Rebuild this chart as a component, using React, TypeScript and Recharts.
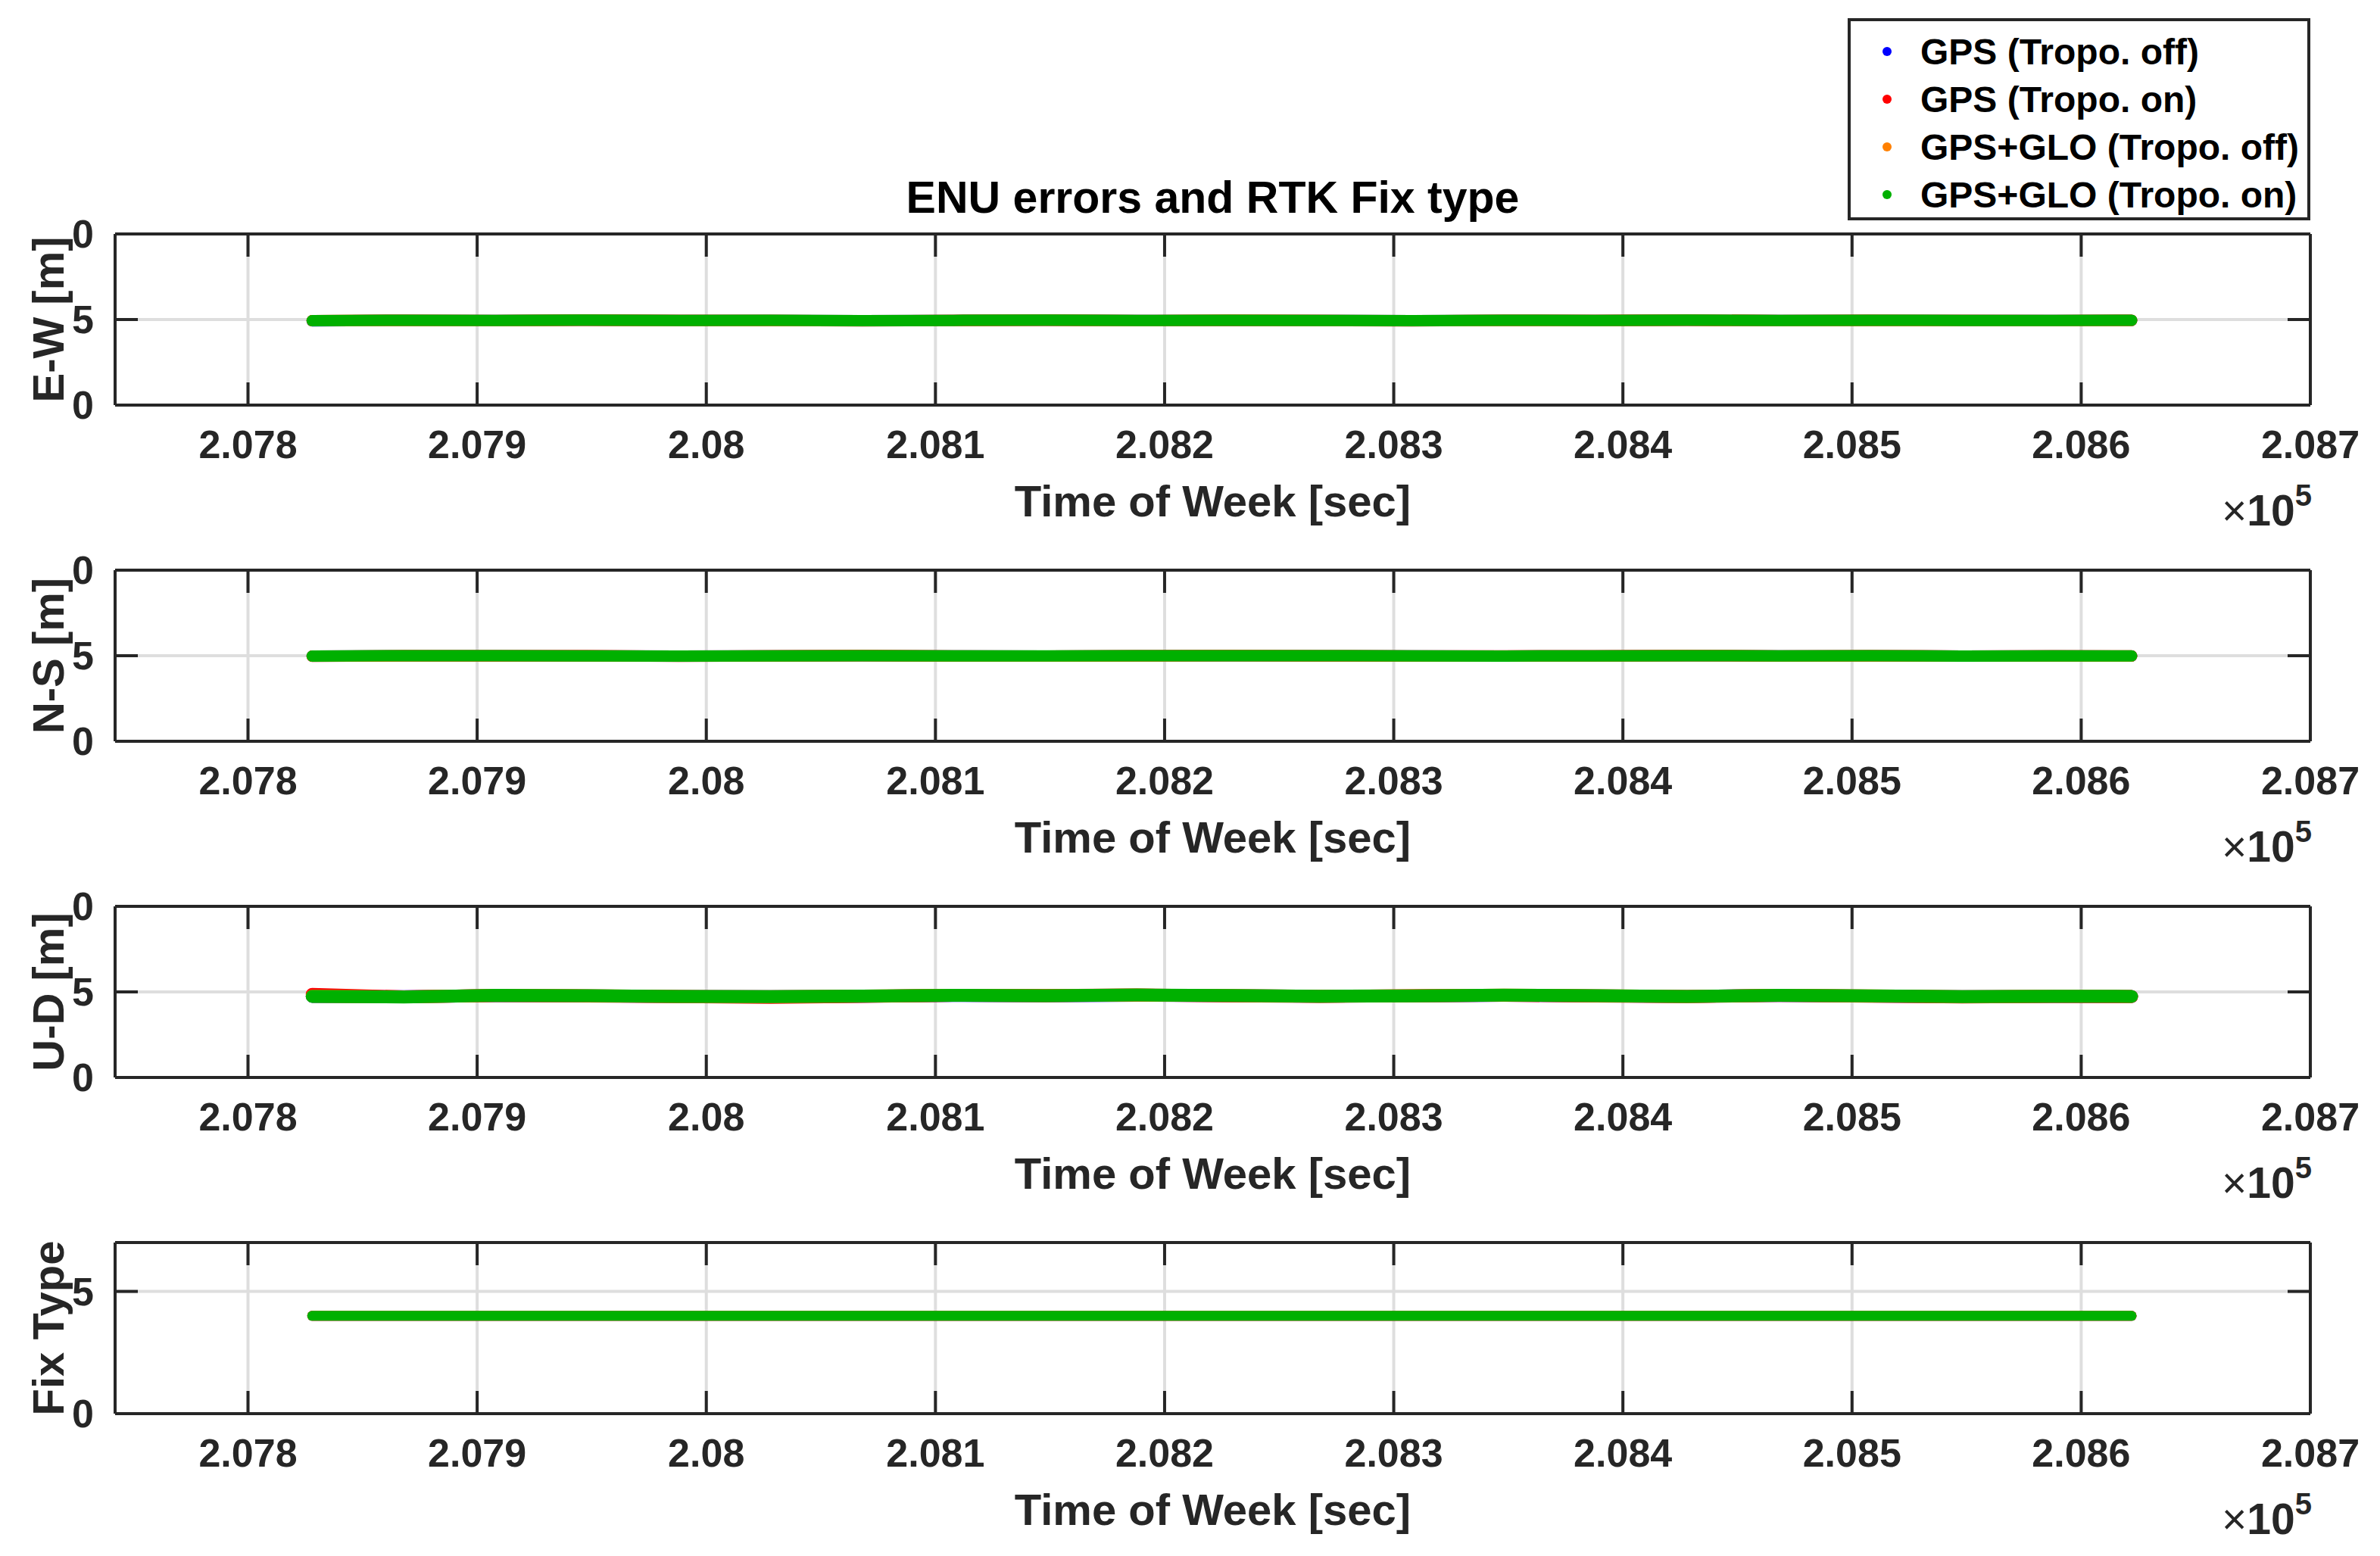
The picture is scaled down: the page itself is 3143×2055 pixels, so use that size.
import { CartesianGrid, Label, Line, LineChart, ReferenceLine, XAxis, YAxis } from "recharts";

// Time of week [s] sampled along the track
const TOW = [
  207828, 207868, 207908, 207948, 207988, 208028, 208068, 208108, 208148, 208188, 208228,
  208268, 208308, 208348, 208388, 208428, 208468, 208508, 208548, 208588, 208622,
];

const X_DOMAIN = [207742, 208700];
const X_TICKS = [207800, 207900, 208000, 208100, 208200, 208300, 208400, 208500, 208600, 208700];
const X_TICK_LABELS = ["2.078", "2.079", "2.08", "2.081", "2.082", "2.083", "2.084", "2.085", "2.086", "2.087"];

// E-W error [m]
const EW_GPS_OFF = [4.92, 4.95, 4.94, 4.96, 4.95, 4.94, 4.93, 4.95, 4.96, 4.94, 4.95, 4.95, 4.93, 4.95, 4.94, 4.96, 4.94, 4.95, 4.95, 4.94, 4.95];
const EW_GPS_ON = [4.93, 4.96, 4.93, 4.97, 4.94, 4.95, 4.92, 4.94, 4.97, 4.93, 4.96, 4.94, 4.92, 4.96, 4.95, 4.97, 4.93, 4.96, 4.94, 4.93, 4.96];
const EW_GLO_OFF = [4.93, 4.95, 4.94, 4.96, 4.95, 4.95, 4.93, 4.95, 4.96, 4.94, 4.96, 4.95, 4.93, 4.95, 4.95, 4.96, 4.94, 4.95, 4.95, 4.94, 4.95];
const EW_GLO_ON = [4.93, 4.96, 4.94, 4.97, 4.95, 4.96, 4.93, 4.95, 4.97, 4.94, 4.96, 4.95, 4.93, 4.96, 4.95, 4.97, 4.94, 4.96, 4.95, 4.94, 4.96];

// N-S error [m]
const NS_GPS_OFF = [4.98, 4.99, 5.0, 4.99, 4.98, 4.99, 5.0, 4.99, 4.98, 4.99, 5.0, 5.0, 4.99, 4.98, 4.99, 5.0, 4.99, 4.99, 4.98, 4.99, 4.98];
const NS_GPS_ON = [4.97, 5.0, 4.99, 5.0, 4.97, 4.99, 5.01, 4.98, 4.98, 5.0, 5.01, 4.99, 4.98, 4.99, 4.99, 5.01, 4.98, 5.0, 4.98, 4.99, 4.99];
const NS_GLO_OFF = [4.98, 4.99, 5.0, 4.99, 4.98, 4.99, 5.0, 4.99, 4.98, 4.99, 5.0, 5.0, 4.99, 4.98, 4.99, 5.0, 4.99, 4.99, 4.98, 4.99, 4.98];
const NS_GLO_ON = [4.98, 5.0, 5.0, 4.99, 4.98, 4.99, 5.0, 4.99, 4.99, 5.0, 5.0, 5.0, 4.99, 4.98, 4.99, 5.0, 4.99, 5.0, 4.98, 4.99, 4.99];

// U-D error [m]
const UD_GPS_OFF = [4.74, 4.72, 4.78, 4.77, 4.74, 4.72, 4.75, 4.79, 4.77, 4.8, 4.78, 4.75, 4.76, 4.8, 4.77, 4.74, 4.79, 4.76, 4.72, 4.74, 4.73];
const UD_GPS_ON = [4.86, 4.71, 4.79, 4.76, 4.72, 4.68, 4.74, 4.8, 4.79, 4.82, 4.77, 4.73, 4.78, 4.8, 4.76, 4.72, 4.8, 4.75, 4.7, 4.73, 4.72];
const UD_GLO_OFF = [4.75, 4.71, 4.79, 4.78, 4.74, 4.72, 4.76, 4.8, 4.78, 4.81, 4.79, 4.75, 4.77, 4.81, 4.78, 4.74, 4.8, 4.77, 4.72, 4.75, 4.74];
const UD_GLO_ON = [4.74, 4.7, 4.8, 4.78, 4.74, 4.72, 4.76, 4.8, 4.78, 4.82, 4.79, 4.75, 4.77, 4.81, 4.78, 4.74, 4.8, 4.77, 4.72, 4.75, 4.74];

// RTK fix type
const FIX_GPS_OFF = [4, 4, 4, 4, 4, 4, 4, 4, 4, 4, 4, 4, 4, 4, 4, 4, 4, 4, 4, 4, 4];
const FIX_GPS_ON = [4, 4, 4, 4, 4, 4, 4, 4, 4, 4, 4, 4, 4, 4, 4, 4, 4, 4, 4, 4, 4];
const FIX_GLO_OFF = [4, 4, 4, 4, 4, 4, 4, 4, 4, 4, 4, 4, 4, 4, 4, 4, 4, 4, 4, 4, 4];
const FIX_GLO_ON = [4, 4, 4, 4, 4, 4, 4, 4, 4, 4, 4, 4, 4, 4, 4, 4, 4, 4, 4, 4, 4];

const SERIES = [
  { key: "gpsOff", name: "GPS (Tropo. off)", color: "#0000ff" },
  { key: "gpsOn", name: "GPS (Tropo. on)", color: "#ff0000" },
  { key: "gloOff", name: "GPS+GLO (Tropo. off)", color: "#ff8000" },
  { key: "gloOn", name: "GPS+GLO (Tropo. on)", color: "#00b000" },
];

const PANELS = [
  { label: "E-W [m]", yMax: 10, yTicks: [0, 5, 10], yTickLabels: ["0", "5", "0"], values: [EW_GPS_OFF, EW_GPS_ON, EW_GLO_OFF, EW_GLO_ON], band: 15 },
  { label: "N-S [m]", yMax: 10, yTicks: [0, 5, 10], yTickLabels: ["0", "5", "0"], values: [NS_GPS_OFF, NS_GPS_ON, NS_GLO_OFF, NS_GLO_ON], band: 15 },
  { label: "U-D [m]", yMax: 10, yTicks: [0, 5, 10], yTickLabels: ["0", "5", "0"], values: [UD_GPS_OFF, UD_GPS_ON, UD_GLO_OFF, UD_GLO_ON], band: 17 },
  { label: "Fix Type", yMax: 7, yTicks: [0, 5], yTickLabels: ["0", "5"], values: [FIX_GPS_OFF, FIX_GPS_ON, FIX_GLO_OFF, FIX_GLO_ON], band: 13 },
];

const PANEL_TOPS = [309, 753, 1197, 1641];

const FONT = '"Liberation Sans", Arial, Helvetica, sans-serif';
const AXIS = "#262626";
const GRID = "#dedede";
const W = 3143;
const PLOT_LEFT = 152;
const PLOT_RIGHT = 3051;
const PLOT_W = PLOT_RIGHT - PLOT_LEFT;
const PLOT_H = 226;
const M_TOP = 40;
const X_AXIS_H = 190;
const TICK_LEN = 30;

const axisStroke = { stroke: AXIS, strokeWidth: 4 };

function Panel({ panel, top }: { panel: (typeof PANELS)[number]; top: number }) {
  const rows = TOW.map((t, i) => {
    const row: Record<string, number> = { t };
    SERIES.forEach((s, k) => {
      row[s.key] = panel.values[k][i];
    });
    return row;
  });
  const cy = M_TOP + PLOT_H / 2;
  const [x0, x1] = X_DOMAIN;
  // tick length expressed in data units of each axis
  const dy = (TICK_LEN / PLOT_H) * panel.yMax;
  const dx = (TICK_LEN / PLOT_W) * (x1 - x0);

  return (
    <div style={{ position: "absolute", left: 0, top: top - M_TOP }}>
      <LineChart
        width={W}
        height={M_TOP + PLOT_H + X_AXIS_H}
        data={rows}
        margin={{ top: M_TOP, right: W - PLOT_RIGHT, bottom: 0, left: PLOT_LEFT - 60 }}
      >
        <CartesianGrid stroke={GRID} strokeWidth={4} />
        <XAxis
          type="number"
          dataKey="t"
          domain={X_DOMAIN}
          allowDataOverflow
          ticks={X_TICKS}
          interval={0}
          height={X_AXIS_H}
          tickSize={0}
          tickMargin={33}
          tickFormatter={(_v: number, i: number) => X_TICK_LABELS[i]}
          tick={{ fontSize: 52, fontWeight: 700, fill: AXIS, fontFamily: FONT }}
          tickLine={false}
          axisLine={false}
        >
          <Label
            content={() => (
              <g fontFamily={FONT} fill={AXIS}>
                <text
                  x={(PLOT_LEFT + PLOT_RIGHT) / 2}
                  y={M_TOP + PLOT_H + 147}
                  textAnchor="middle"
                  fontSize={58}
                  fontWeight={700}
                >
                  Time of Week [sec]
                </text>
                <text x={PLOT_RIGHT + 2} y={M_TOP + PLOT_H + 159} textAnchor="end" fontSize={57}>
                  <tspan fontWeight={400}>×</tspan>
                  <tspan fontWeight={700}>10</tspan>
                  <tspan fontWeight={700} fontSize={40} dy={-26}>
                    5
                  </tspan>
                </text>
              </g>
            )}
          />
        </XAxis>
        <YAxis
          type="number"
          domain={[0, panel.yMax]}
          ticks={panel.yTicks}
          interval={0}
          width={60}
          tickSize={0}
          tickMargin={28}
          tickFormatter={(_v: number, i: number) => panel.yTickLabels[i]}
          tick={{ fontSize: 52, fontWeight: 700, fill: AXIS, fontFamily: FONT }}
          tickLine={false}
          axisLine={false}
        >
          <Label
            content={() => (
              <text
                x={84}
                y={cy}
                transform={`rotate(-90 84 ${cy})`}
                textAnchor="middle"
                fontFamily={FONT}
                fontSize={58}
                fontWeight={700}
                fill={AXIS}
              >
                {panel.label}
              </text>
            )}
          />
        </YAxis>
        {SERIES.map((s) => (
          <Line
            key={s.key}
            dataKey={s.key}
            name={s.name}
            type="linear"
            stroke={s.color}
            strokeWidth={panel.band}
            strokeLinecap="round"
            strokeLinejoin="round"
            dot={false}
            activeDot={false}
            isAnimationActive={false}
          />
        ))}
        {/* inward tick marks on all four sides, like the MATLAB axes box */}
        {X_TICKS.map((t) => (
          <ReferenceLine key={`xb${t}`} segment={[{ x: t, y: 0 }, { x: t, y: dy }]} {...axisStroke} ifOverflow="visible" />
        ))}
        {X_TICKS.map((t) => (
          <ReferenceLine
            key={`xt${t}`}
            segment={[{ x: t, y: panel.yMax }, { x: t, y: panel.yMax - dy }]}
            {...axisStroke}
            ifOverflow="visible"
          />
        ))}
        {panel.yTicks.map((v) => (
          <ReferenceLine key={`yl${v}`} segment={[{ x: x0, y: v }, { x: x0 + dx, y: v }]} {...axisStroke} ifOverflow="visible" />
        ))}
        {panel.yTicks.map((v) => (
          <ReferenceLine key={`yr${v}`} segment={[{ x: x1, y: v }, { x: x1 - dx, y: v }]} {...axisStroke} ifOverflow="visible" />
        ))}
        {/* axes box */}
        <ReferenceLine x={x0} {...axisStroke} ifOverflow="visible" />
        <ReferenceLine x={x1} {...axisStroke} ifOverflow="visible" />
        <ReferenceLine y={0} {...axisStroke} ifOverflow="visible" />
        <ReferenceLine y={panel.yMax} {...axisStroke} ifOverflow="visible" />
      </LineChart>
    </div>
  );
}

export default function App() {
  return (
    <div
      style={{
        position: "absolute",
        left: 0,
        top: 0,
        width: W,
        height: 2055,
        background: "#fff",
        fontFamily: FONT,
      }}
    >
      {PANELS.map((p, i) => (
        <Panel key={p.label} panel={p} top={PANEL_TOPS[i]} />
      ))}
      <div
        style={{
          position: "absolute",
          left: 0,
          width: PLOT_LEFT + PLOT_RIGHT,
          top: 232,
          textAlign: "center",
          fontSize: 59,
          lineHeight: "59px",
          fontWeight: 700,
          color: "#000",
          whiteSpace: "nowrap",
        }}
      >
        ENU errors and RTK Fix type
      </div>
      <div
        style={{
          position: "absolute",
          left: 2440,
          top: 24,
          width: 611,
          height: 267,
          boxSizing: "border-box",
          border: `4px solid ${AXIS}`,
          background: "#fff",
          paddingTop: 9,
        }}
      >
        {SERIES.map((s) => (
          <div
            key={s.key}
            style={{
              position: "relative",
              height: 63,
              lineHeight: "63px",
              fontSize: 48,
              fontWeight: 700,
              color: "#000",
              paddingLeft: 92,
              whiteSpace: "nowrap",
            }}
          >
            <span
              style={{
                position: "absolute",
                left: 42,
                top: 25,
                width: 12,
                height: 12,
                borderRadius: 6,
                background: s.color,
              }}
            />
            {s.name}
          </div>
        ))}
      </div>
    </div>
  );
}
